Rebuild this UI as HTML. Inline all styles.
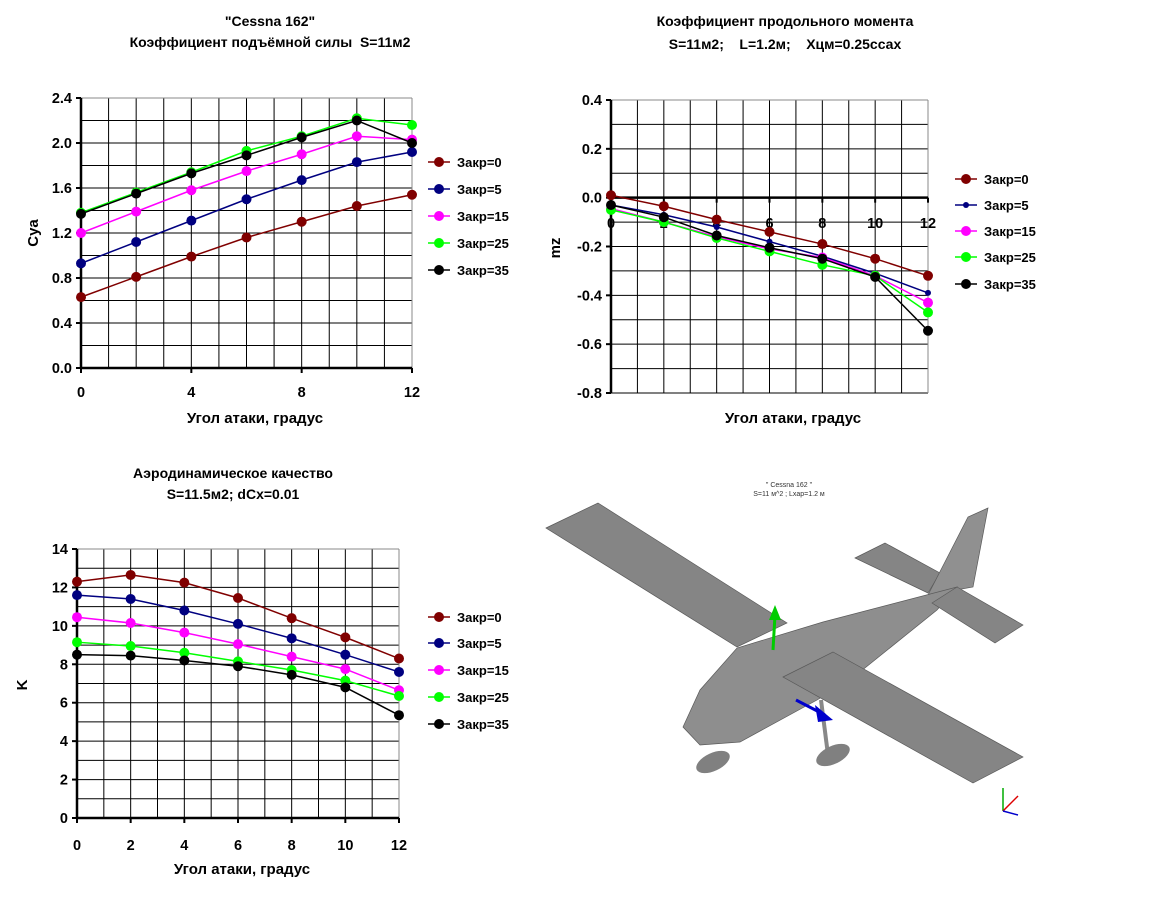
<!DOCTYPE html>
<html><head><meta charset="utf-8"><style>
body{margin:0;background:#fff;width:1152px;height:904px;overflow:hidden}
svg{display:block;font-family:"Liberation Sans",Arial,sans-serif;font-weight:bold}
text{white-space:pre}
</style></head><body>
<svg id="s" width="1152" height="904" xmlns="http://www.w3.org/2000/svg"></svg>
<script>
const S=document.getElementById('s');let h='';
const cols=['#800000','#000080','#ff00ff','#00ff00','#000000'];
const names=['Закр=0','Закр=5','Закр=15','Закр=25','Закр=35'];
function chart(o){
 const X=v=>o.x0+(o.x1-o.x0)*v/12, Y=v=>o.y0+(o.y1-o.y0)*(v-o.vmax)/(o.vmin-o.vmax);
 for(let i=0;i<=12;i++){h+=`<line x1="${X(i)}" y1="${o.y0}" x2="${X(i)}" y2="${o.y1}" stroke="#000" stroke-width="1"/>`;}
 for(let v=o.vmin;v<=o.vmax+1e-9;v+=o.gs){h+=`<line x1="${o.x0}" y1="${Y(v)}" x2="${o.x1}" y2="${Y(v)}" stroke="#000" stroke-width="1"/>`;}
 h+=`<line x1="${o.x1}" y1="${o.y0}" x2="${o.x1}" y2="${o.y1}" stroke="#888"/><line x1="${o.x0}" y1="${o.y0}" x2="${o.x1}" y2="${o.y0}" stroke="#888"/>`;
 h+=`<line x1="${o.x0}" y1="${o.y0}" x2="${o.x0}" y2="${o.y1}" stroke="#000" stroke-width="2.5"/>`;
 const ya=o.zero?Y(0):o.y1;
 h+=`<line x1="${o.x0}" y1="${ya}" x2="${o.x1}" y2="${ya}" stroke="#000" stroke-width="2.5"/>`;
 const n=Math.round((o.vmax-o.vmin)/o.ls);
 for(let j=0;j<=n;j++){let v=o.vmin+j*o.ls;v=Math.round(v*1000)/1000;if(Math.abs(v)<1e-9)v=0;h+=`<line x1="${o.x0-5}" y1="${Y(v)}" x2="${o.x0}" y2="${Y(v)}" stroke="#000" stroke-width="2"/><text x="${o.x0-9}" y="${Y(v)+5}" font-size="14.5" text-anchor="end">${v.toFixed(o.dec)}</text>`;}
 for(let i=0;i<=12;i+=o.xs){h+=`<line x1="${X(i)}" y1="${ya}" x2="${X(i)}" y2="${ya+5}" stroke="#000" stroke-width="2"/><text x="${X(i)}" y="${o.xl}" font-size="14.5" text-anchor="middle">${i}</text>`;}
 o.d.forEach((d,k)=>{const p=d.map((v,i)=>X(2*i)+','+Y(v)).join(' ');
  h+=`<polyline points="${p}" fill="none" stroke="${cols[k]}" stroke-width="1.5"/>`;
  d.forEach((v,i)=>{h+=`<circle cx="${X(2*i)}" cy="${Y(v)}" r="${o.small&&k==1?3:5}" fill="${cols[k]}"/>`;});});
 o.lg.forEach((y,k)=>{h+=`<line x1="${o.lx}" y1="${y}" x2="${o.lx+22}" y2="${y}" stroke="${cols[k]}" stroke-width="1.5"/><circle cx="${o.lx+11}" cy="${y}" r="${o.small&&k==1?3:5}" fill="${cols[k]}"/><text x="${o.lx+29}" y="${y+5}" font-size="13">${names[k]}</text>`;});
}
chart({x0:81,x1:412,y0:98,y1:368,vmin:0,vmax:2.4,gs:0.2,ls:0.4,dec:1,xs:4,xl:397,lx:428,lg:[162,189,216,243,270],
 d:[[0.63,0.81,0.99,1.16,1.30,1.44,1.54],[0.93,1.12,1.31,1.50,1.67,1.83,1.92],[1.20,1.39,1.58,1.75,1.90,2.06,2.03],[1.38,1.56,1.74,1.93,2.06,2.22,2.16],[1.37,1.55,1.73,1.89,2.05,2.20,2.00]]});
chart({x0:611,x1:928,y0:100,y1:393,vmin:-0.8,vmax:0.4,gs:0.1,ls:0.2,dec:1,xs:2,xl:228,lx:955,zero:true,small:true,lg:[179,205,231,257,284],
 d:[[0.01,-0.035,-0.09,-0.14,-0.19,-0.25,-0.32],[-0.03,-0.07,-0.12,-0.18,-0.24,-0.31,-0.39],[-0.045,-0.1,-0.16,-0.21,-0.245,-0.32,-0.43],[-0.05,-0.1,-0.165,-0.22,-0.275,-0.32,-0.47],[-0.03,-0.08,-0.155,-0.205,-0.25,-0.325,-0.545]]});
chart({x0:77,x1:399,y0:549,y1:818,vmin:0,vmax:14,gs:1,ls:2,dec:0,xs:2,xl:850,lx:428,lg:[617,643,670,697,724],
 d:[[12.3,12.65,12.25,11.45,10.4,9.4,8.3],[11.6,11.4,10.8,10.1,9.35,8.5,7.6],[10.45,10.15,9.65,9.05,8.4,7.75,6.65],[9.15,8.95,8.6,8.15,7.7,7.15,6.35],[8.5,8.45,8.2,7.9,7.45,6.8,5.35]]});
function t(x,y,s,sz,extra){h+=`<text x="${x}" y="${y}" font-size="${sz||14}" text-anchor="middle" ${extra||''}>${s}</text>`;}
t(270,26,'"Cessna 162"');t(270,47,'Коэффициент подъёмной силы  S=11м2');
t(785,26,'Коэффициент продольного момента');t(785,49,'S=11м2;    L=1.2м;    Хцм=0.25ссах');
t(233,478,'Аэродинамическое качество');t(233,499,'S=11.5м2; dCx=0.01');
t(255,423,'Угол атаки, градус',15);t(793,423,'Угол атаки, градус',15);t(242,874,'Угол атаки, градус',15);
h+=`<text x="0" y="0" font-size="15" text-anchor="middle" transform="translate(38,233) rotate(-90)">Cya</text>`;
h+=`<text x="0" y="0" font-size="15" text-anchor="middle" transform="translate(560,248) rotate(-90)">mz</text>`;
h+=`<text x="0" y="0" font-size="15" text-anchor="middle" transform="translate(27,685) rotate(-90)">K</text>`;
h+=`<text x="789" y="487" font-size="7" font-weight="normal" text-anchor="middle" fill="#333">" Cessna 162 "</text><text x="789" y="496" font-size="7" font-weight="normal" text-anchor="middle" fill="#333">S=11 м^2 ; Lхар=1.2 м</text>`;
const g='fill="#858585" stroke="#5a5a5a" stroke-width="0.7"';
h+=`<polygon points="855,558 885,543 940,573 928,593" ${g}/>`;
h+=`<polygon points="546,528 598,503 787,623 737,647" ${g}/>`;
h+=`<polygon points="928,595 968,517 988,508 973,587" fill="#909090" stroke="#5a5a5a" stroke-width="0.7"/>`;
h+=`<polygon points="683,727 700,690 737,648 823,622 957,587 937,610 850,680 817,700 740,742 700,745" fill="#8e8e8e" stroke="#5a5a5a" stroke-width="0.7"/>`;
h+=`<polygon points="932,603 957,587 1023,625 995,643" ${g}/>`;
h+=`<polygon points="783,677 833,652 1023,757 973,783" ${g}/>`;
h+=`<line x1="821" y1="700" x2="828" y2="755" stroke="#888" stroke-width="4"/>`;
h+=`<ellipse cx="833" cy="755" rx="18" ry="9" transform="rotate(-25 833 755)" fill="#808080"/><ellipse cx="713" cy="762" rx="18" ry="9" transform="rotate(-25 713 762)" fill="#808080"/>`;
h+=`<line x1="773" y1="650" x2="775" y2="615" stroke="#0c0" stroke-width="3"/><polygon points="769,620 775,605 781,620" fill="#0c0"/>`;
h+=`<line x1="796" y1="700" x2="825" y2="715" stroke="#00c" stroke-width="3"/><polygon points="815,705 833,720 818,722" fill="#00c"/>`;
h+=`<line x1="1003" y1="811" x2="1003" y2="788" stroke="#0a0" stroke-width="1.5"/><line x1="1003" y1="811" x2="1018" y2="796" stroke="#d00" stroke-width="1.5"/><line x1="1003" y1="811" x2="1018" y2="815" stroke="#00c" stroke-width="1.5"/>`;
S.innerHTML=h;
</script>
</body></html>
